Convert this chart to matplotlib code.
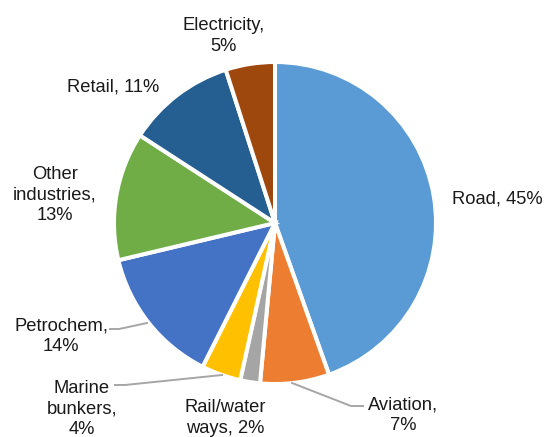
import matplotlib
matplotlib.use('Agg')
import matplotlib.pyplot as plt

# data, clockwise from 12 o'clock
sectors = ['Road', 'Aviation', 'Rail/water ways', 'Marine bunkers',
           'Petrochem', 'Other industries', 'Retail', 'Electricity']
shares = [45, 7, 2, 4, 14, 13, 11, 5]
# how each label wraps in the picture ("{v}" is the share)
label_text = ['Road, {v}%', 'Aviation,\n{v}%', 'Rail/water\nways, {v}%',
              'Marine\nbunkers,\n{v}%', 'Petrochem,\n{v}%',
              'Other\nindustries,\n{v}%', 'Retail, {v}%', 'Electricity,\n{v}%']
colors = ['#5B9BD5', '#ED7D31', '#A5A5A5', '#FFC000',
          '#4472C4', '#70AD47', '#255E91', '#9E480E']

W, H = 549, 437
CX, CY, R = 275, 223, 161   # R includes the half of the white edge
EDGE = 2.9                  # white separator, points

# label centres, image pixels (y down)
label_pos = [(497, 199), (403, 415), (225, 418), (82, 409),
             (61, 336), (55, 195), (113, 87), (224, 36)]
# leader lines (image pixels), None where there is none
leaders = [None,
           [(292, 383), (351, 406), (363, 406)],
           None,
           [(115, 385), (125, 385), (222, 375)],
           [(110, 329), (119, 329), (147, 323)],
           None, None, None]


def fy(y):
    return H - y


fig = plt.figure(figsize=(W / 100, H / 100), dpi=100)
ax = fig.add_axes([0, 0, 1, 1])

ax.pie(shares, colors=colors, startangle=90, counterclock=False,
       center=(CX, fy(CY)), radius=R,
       wedgeprops=dict(edgecolor='white', linewidth=EDGE))
ax.set_xlim(0, W)
ax.set_ylim(0, H)
ax.set_aspect('equal')
ax.axis('off')

for name, v, txt, (x, y), lead in zip(sectors, shares, label_text, label_pos, leaders):
    ax.text(x, fy(y), txt.format(v=v), ha='center', va='center',
            fontsize=13.2, family=['Liberation Sans', 'DejaVu Sans'],
            color='#1a1a1a', linespacing=1.26)
    if lead is not None:
        xs = [p[0] for p in lead]
        ys = [fy(p[1]) for p in lead]
        ax.plot(xs, ys, color='#A6A6A6', lw=1.4)

fig.savefig('out.png', dpi=100)
